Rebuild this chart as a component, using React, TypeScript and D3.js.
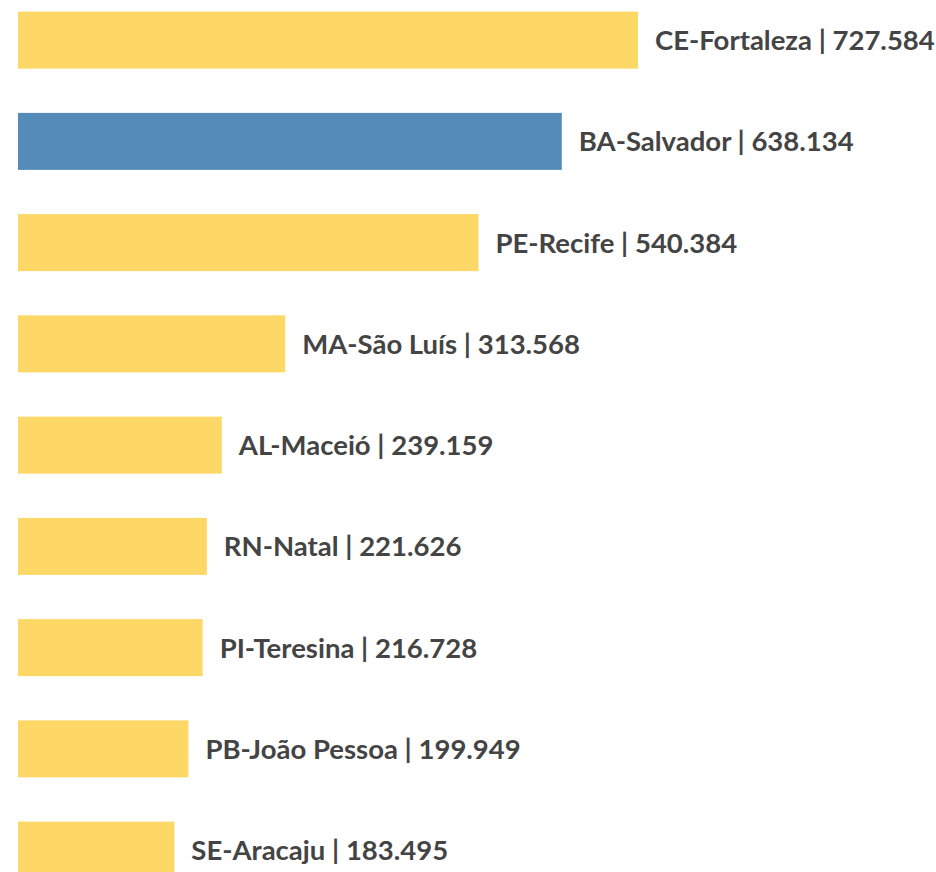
import React from "react";
import * as d3 from "d3";

const cities = ["CE-Fortaleza", "BA-Salvador", "PE-Recife", "MA-São Luís", "AL-Maceió", "RN-Natal", "PI-Teresina", "PB-João Pessoa", "SE-Aracaju"];
const values = [727584, 638134, 540384, 313568, 239159, 221626, 216728, 199949, 183495];
const labels = ["727.584", "638.134", "540.384", "313.568", "239.159", "221.626", "216.728", "199.949", "183.495"];
const highlight = ["BA-Salvador"];

const W = 936;
const H = 872;

export default function App() {
  const x = d3.scaleLinear().domain([0, d3.max(values) as number]).range([18, 638]);
  const y = d3.scaleBand<string>().domain(cities).range([-10.5, 900.75]).paddingInner(0.437).paddingOuter(0.2185);
  return (
    <svg width={W} height={H} style={{ position: "absolute", left: 0, top: 0 }}>
      <rect width={W} height={H} fill="#fff" />
      {cities.map((c, i) => (
        <g key={c}>
          <rect
            x={x(0)}
            y={y(c)}
            width={x(values[i]) - x(0)}
            height={y.bandwidth()}
            fill={highlight.includes(c) ? "#548BB8" : "#FDD866"}
          />
          <text
            x={x(values[i]) + 17}
            y={(y(c) as number) + y.bandwidth() / 2}
            dy="0.36em"
            fontFamily="Lato"
            fontWeight="bold"
            fontSize={27.5}
            fill="#444"
          >
            {c} | {labels[i]}
          </text>
        </g>
      ))}
    </svg>
  );
}
